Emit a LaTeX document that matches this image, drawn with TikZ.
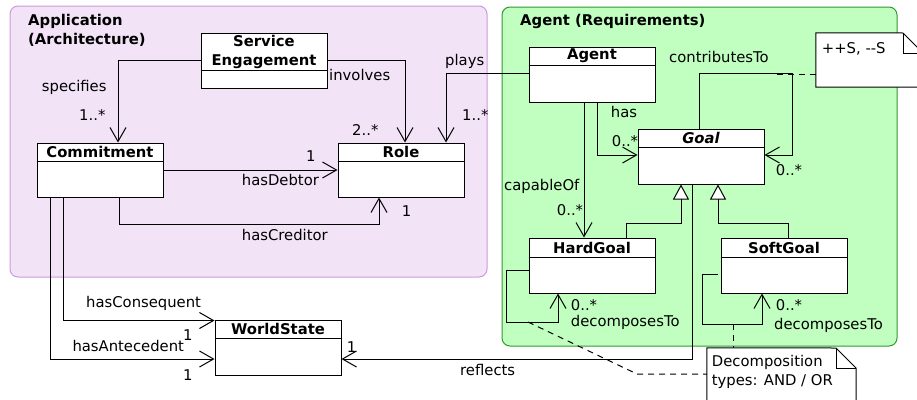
\documentclass[tikz,border=0pt]{standalone}
\usepackage{fontspec}
\setmainfont{DejaVu Sans}
\usetikzlibrary{arrows.meta,calc}
\definecolor{appfill}{HTML}{F2E4F6}
\definecolor{appdraw}{HTML}{CC99E0}
\definecolor{agfill}{HTML}{C0FFC0}
\definecolor{agdraw}{HTML}{2E9A2E}
\newcommand\dfont{\fontsize{14.8}{19}\selectfont}
\tikzset{
  panel/.style={rounded corners=8pt, line width=1pt},
  cls/.style={draw, fill=white, line width=1pt, minimum width=126pt, inner sep=0pt},
  clstitle/.style={font={\dfont\bfseries}, inner sep=0pt, align=center},
  lbl/.style={anchor=base west, inner sep=0pt},
  boldlbl/.style={lbl, font={\dfont\bfseries}},
  assoc/.style={line width=1pt, -{Straight Barb[length=14pt,width=16pt,line width=1pt]}},
  gen/.style={line width=1pt, -{Triangle[open,length=15pt,width=16pt,fill=white,line width=1pt]}},
  notelink/.style={line width=1pt, dash pattern=on 6pt off 5pt},
  noteline/.style={line width=1pt},
}
\newcommand\umlcls[6]{%
  \node[cls, minimum height=#4pt] (#1) at (#2,#3) {};
  \draw[line width=1pt] ($(#1.north west)+(0,#5)$) -- ($(#1.north east)+(0,#5)$);
  \node[clstitle] (#1-t) at ($(#1.north)+(0,{#5/2})$) {#6};
}
\begin{document}
\begin{tikzpicture}[x=1pt,y=-1pt,font=\dfont]
\useasboundingbox (0,0) rectangle (917,399);
\fill[white] (0,0) rectangle (917,399);
% panels
\draw[panel, fill=appfill, draw=appdraw] (10,6) rectangle (487,277);
\draw[panel, fill=agfill, draw=agdraw] (502,7) rectangle (897,346);
\node[boldlbl] (apptitle) at (28,25.7) {Application};
\node[boldlbl] (apptitle2) at (28,44.7) {(Architecture)};
\node[boldlbl] (agtitle) at (520,25) {Agent (Requirements)};
% classes
\umlcls{se}{264}{60.5}{55}{38}{Service\\Engagement}
\umlcls{commit}{100}{170}{54}{19}{Commitment}
\umlcls{role}{401}{170}{54}{19}{Role}
\umlcls{agent}{592}{74.5}{55}{19}{Agent}
\umlcls{goal}{701}{156.5}{55}{19}{\itshape Goal}
\umlcls{hard}{592}{265.5}{55}{20}{HardGoal}
\umlcls{soft}{784}{265.5}{55}{20}{SoftGoal}
\umlcls{world}{278}{347.5}{55}{19}{WorldState}
% notes
\node[inner sep=0pt, minimum width=107pt, minimum height=54pt] (note1) at (869.5,60) {};
\fill[white] (note1.north west) -- (903,33) -- (923,53) -- (note1.south east) -- (note1.south west) -- cycle;
\draw[noteline] (note1.north west) -- (903,33) -- (923,53) -- (note1.south east) -- (note1.south west) -- cycle;
\draw[noteline] (903,33) -- (903,53) -- (923,53);
\node[lbl] (note1t) at (821.7,53.3) {++S, -{}-S};
\node[inner sep=0pt, minimum width=149pt, minimum height=62pt] (note2) at (781.5,379) {};
\fill[white] (note2.north west) -- (836,348) -- (856,368) -- (note2.south east) -- (note2.south west) -- cycle;
\draw[noteline] (note2.north west) -- (836,348) -- (856,368) -- (note2.south east) -- (note2.south west) -- cycle;
\draw[noteline] (836,348) -- (836,368) -- (856,368);
\node[lbl] (note2t1) at (711.7,366.7) {Decomposition};
\node[lbl] (note2t2) at (711.7,385.5) {types: AND / OR};
% associations
\draw[assoc] (se.west) -| ($(commit.north)+(18,0)$);
\node[lbl] at (41.7,91.7) {specifies};
\node[lbl] at (79,120.7) {1..*};
\draw[assoc] (se.east) -| ($(role.north)+(4,0)$);
\node[lbl] at (329,80) {involves};
\node[lbl] at (352,135) {2..*};
\draw[assoc] ($(agent.west)+(0,-1.5)$) -| ($(role.north)+(45,0)$);
\node[lbl] at (445,65) {plays};
\node[lbl] at (462,120.7) {1..*};
\draw[assoc] (commit.east) -- (role.west);
\node[lbl] at (306,161.7) {1};
\node[lbl] at (241.7,185) {hasDebtor};
\draw[assoc] ($(commit.south)+(19,0)$) -- ++(0,27) -| ($(role.south)+(-22,0)$);
\node[lbl] at (241.7,240) {hasCreditor};
\node[lbl] at (401.7,216.7) {1};
\draw[assoc] ($(commit.south)+(-37,0)$) |- ($(world.north west)+(0,1)$);
\node[lbl] at (86,307.7) {hasConsequent};
\node[lbl] at (183,340) {1};
\draw[assoc] ($(commit.south)+(-50,0)$) |- ($(world.west)+(0,11.5)$);
\node[lbl] at (72.3,351.7) {hasAntecedent};
\node[lbl] at (183,380.7) {1};
\draw[assoc] ($(goal.south)+(-9,0)$) |- ($(world.east)+(0,11.5)$);
\node[lbl] at (460,375) {reflects};
\node[lbl] at (346.7,352.3) {1};
\draw[assoc] ($(agent.south)+(5,0)$) |- ($(goal.west)+(0,-1.5)$);
\node[lbl] at (610.7,117.3) {has};
\node[lbl] at (611.7,146.7) {0..*};
\draw[assoc] ($(agent.south)+(-8,0)$) -- ($(hard.north)+(-8,0)$);
\node[lbl] at (504,190) {capableOf};
\node[lbl] at (556.7,215) {0..*};
\draw[assoc] ($(goal.north)+(-2,0)$) -- ++(0,-55) coordinate (ct) -| ($(goal.east)+(28,-1.5)$) -- ($(goal.east)+(0,-1.5)$);
\node[lbl] at (669,62.3) {contributesTo};
\node[lbl] at (775.7,175.7) {0..*};
\draw[notelink] (777,74) -- (note1.west |- 0,74);
% generalizations
\draw[gen] ($(hard.north)+(34,0)$) -- ++(0,-14) -| ($(goal.south)+(-20,0)$);
\draw[gen] ($(soft.north)+(4,0)$) -- ++(0,-14) -| ($(goal.south)+(17,0)$);
% self decompositions
\draw[assoc] ($(hard.west)+(0,4.5)$) -- ++(-22,0) -- ++(0,52) -| ($(hard.south)+(-34,0)$);
\node[lbl] at (570.7,310.7) {0..*};
\node[lbl] at (570.7,326.7) {decomposesTo};
\draw[assoc] ($(soft.west)+(-3,8.5)$) -- ++(-15,0) -- ++(0,50) -| ($(soft.south)+(-22,0)$);
\node[lbl] at (775.7,310.7) {0..*};
\node[lbl] at (774,329) {decomposesTo};
\draw[notelink] (528,322) -- (637,374) -- (note2.west |- 0,374);
\draw[notelink] (733,324) -- (note2.north -| 733,0);
\end{tikzpicture}
\end{document}
